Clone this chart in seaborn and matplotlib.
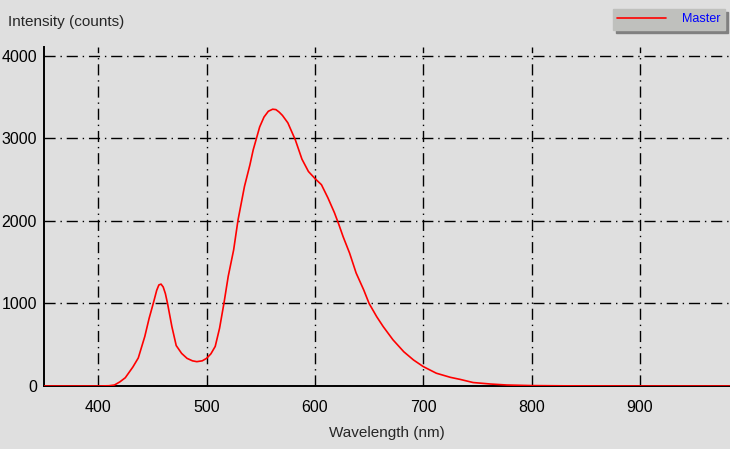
import numpy as np
import pandas as pd
import matplotlib
matplotlib.use("Agg")
import matplotlib.pyplot as plt
import seaborn as sns
from matplotlib.ticker import MultipleLocator

# spectrum
wavelength = [350, 400, 410, 415, 420, 425, 432, 437, 443, 447, 451, 454, 456, 458, 460,
              462, 464, 468, 472, 477, 482, 487, 491, 496, 500, 504, 508, 512, 516, 520,
              525, 529, 535, 540, 543, 549, 553, 557, 561, 564, 567, 570, 575, 582, 588, 594,
              600, 606, 612, 618, 622, 626, 632, 638, 645, 650, 657, 663, 672, 682,
              691, 700, 712, 725, 734, 746, 762, 777, 800, 830, 900, 983]
intensity = [0, 0, 3, 12, 50, 100, 230, 340, 600, 820, 1010, 1160, 1225, 1235, 1200,
             1120, 1000, 720, 490, 395, 335, 305, 295, 305, 335, 390, 480, 700, 1000, 1330,
             1650, 2010, 2420, 2680, 2860, 3140, 3260, 3330, 3355, 3350, 3320, 3280, 3190, 2980, 2750, 2600,
             2515, 2440, 2280, 2100, 1960, 1810, 1610, 1370, 1165, 1000, 840, 720, 560, 415,
             315, 235, 155, 105, 80, 42, 24, 12, 5, 2, 0, 0]
series_name = "Master"

df = pd.DataFrame({"Wavelength": wavelength, "Intensity": intensity})

sns.set_style("white")
plt.rcParams['font.family'] = ['Liberation Sans', 'DejaVu Sans']

bg = '#dfdfdf'
fig = plt.figure(figsize=(7.3, 4.49), dpi=100, facecolor=bg)
ax = fig.add_axes([44 / 730, 1 - 386 / 449, 1 - 44 / 730, (386 - 47) / 449])
ax.set_facecolor(bg)

sns.lineplot(data=df, x="Wavelength", y="Intensity", color='#ff0000', linewidth=1.2,
             ax=ax, label=series_name, legend=False, zorder=3)

ax.set_xlim(350, 983)
ax.set_ylim(0, 4109)
ax.xaxis.set_major_locator(MultipleLocator(100))
ax.xaxis.set_minor_locator(MultipleLocator(50))
ax.yaxis.set_major_locator(MultipleLocator(1000))
ax.yaxis.set_minor_locator(MultipleLocator(500))

ax.grid(True, which='major', color='black', linewidth=1.0, linestyle=(0, (8, 3.5, 1, 3.5)))
ax.set_axisbelow(True)

for s in ['top', 'right']:
    ax.spines[s].set_visible(False)
for s in ['left', 'bottom']:
    ax.spines[s].set_color('black')
    ax.spines[s].set_linewidth(1.4)

ax.tick_params(axis='both', which='both', direction='inout', color='black', labelsize=11.5,
               labelcolor='black')
ax.tick_params(axis='both', which='major', length=6, width=1)
ax.tick_params(axis='both', which='minor', length=5, width=1)
ax.tick_params(axis='x', which='major', length=0, pad=10)
ax.tick_params(axis='y', which='major', pad=2)

ax.set_xlabel("Wavelength (nm)", fontsize=11, labelpad=8)
ax.set_ylabel("")
fig.text(8 / 730, 1 - 22 / 449, "Intensity (counts)", fontsize=11, ha='left', va='center')

handles, labels = ax.get_legend_handles_labels()
leg = fig.legend(handles, labels, loc='upper right', bbox_to_anchor=(725 / 730, 1 - 9 / 449),
                 frameon=True, fancybox=False, fontsize=9, labelcolor='#0000ff',
                 facecolor='#bfc0bd', edgecolor='#bfc0bd', framealpha=1,
                 handlelength=3.9, handletextpad=1.3, borderpad=0.35, borderaxespad=0,
                 shadow={'color': '#808080', 'alpha': 1, 'ox': 2, 'oy': -2})

fig.savefig("out.png", dpi=100, facecolor=bg)
